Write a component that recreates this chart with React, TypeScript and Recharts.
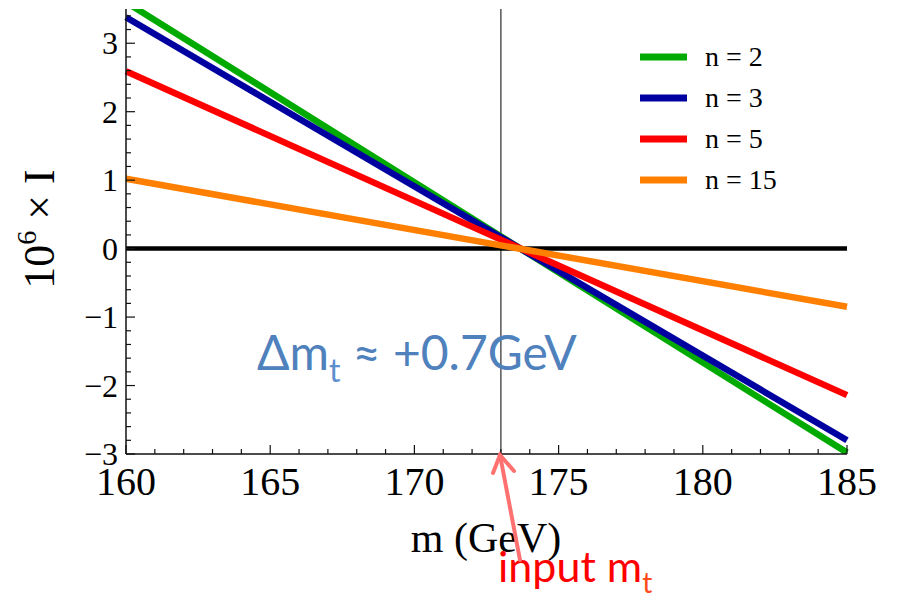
import { LineChart, Line, XAxis, YAxis, Legend, ReferenceLine } from "recharts";

// top-quark mass scan, straight lines through the crossing near 173.7 GeV
const masses = [160, 185];
const n2 = [3.6, -2.98];
const n3 = [3.38, -2.8];
const n5 = [2.59, -2.14];
const n15 = [1.02, -0.85];

const seriesNames = ["n = 2", "n = 3", "n = 5", "n = 15"];
const xMajor = [160, 165, 170, 175, 180, 185];
const yMajor = [-3, -2, -1, 0, 1, 2, 3];
const inputMass = 173;

const data = masses.map((m, i) => ({ m, n2: n2[i], n3: n3[i], n5: n5[i], n15: n15[i] }));

const xTicks: number[] = [];
for (let v = 160; v <= 185; v++) xTicks.push(v);
const yTicks: number[] = [];
for (let k = -15; k <= 17; k++) yTicks.push(Math.round(k * 2) / 10);

const serif = '"Liberation Serif", "DejaVu Serif", serif';
const sans = 'Lato, "Open Sans", sans-serif';
const ink = "#111";

const isMajorX = (v: number) => xMajor.includes(v);
const isMajorY = (v: number) => yMajor.some((t) => Math.abs(t - v) < 1e-6);
const fmt = (v: number) => (v < 0 ? "\u2212" + Math.abs(v) : String(v));

function BottomTick(props: any) {
  const { x, y, payload } = props;
  const major = isMajorX(payload.value);
  return (
    <g>
      <line x1={x} y1={y} x2={x} y2={y - (major ? 9 : 5)} stroke={ink} strokeWidth={1.2} />
      {major && (
        <text x={x} y={y + 41} textAnchor="middle" fontSize={40} fontFamily={serif} fill="#000">
          {payload.value}
        </text>
      )}
    </g>
  );
}

function TopTick(props: any) {
  const { x, y, payload } = props;
  const major = isMajorX(payload.value);
  return <line x1={x} y1={y} x2={x} y2={y + (major ? 9 : 5)} stroke={ink} strokeWidth={1.2} />;
}

function LeftTick(props: any) {
  const { x, y, payload } = props;
  const major = isMajorY(payload.value);
  return (
    <g>
      <line x1={x} y1={y} x2={x + (major ? 9 : 5)} y2={y} stroke={ink} strokeWidth={1.2} />
      {major && (
        <text x={x - 8} y={y + 11} textAnchor="end" fontSize={32} fontFamily={serif} fill="#000">
          {fmt(Math.round(payload.value))}
        </text>
      )}
    </g>
  );
}

function RightTick(props: any) {
  const { x, y, payload } = props;
  const major = isMajorY(payload.value);
  return <line x1={x} y1={y} x2={x - (major ? 9 : 5)} y2={y} stroke={ink} strokeWidth={1.2} />;
}

function LegendBox(props: any) {
  const items = [...(props.payload || [])].sort(
    (a: any, b: any) => seriesNames.indexOf(a.value) - seriesNames.indexOf(b.value)
  );
  return (
    <div>
      {items.map((it: any) => (
        <div key={it.value} style={{ display: "flex", alignItems: "center", height: 41 }}>
          <svg width={48} height={10} style={{ marginRight: 17 }}>
            <rect x={0} y={1.5} width={47} height={7} fill={it.color} />
          </svg>
          <span style={{ fontFamily: serif, fontSize: 28, color: "#000" }}>{it.value}</span>
        </div>
      ))}
    </div>
  );
}

export default function App() {
  const axisLine = { stroke: ink, strokeWidth: 1.5 };
  const keys = ["n2", "n3", "n5", "n15"];
  const colors = ["#00aa00", "#0000a0", "#ff0000", "#ff8000"];
  return (
    <div style={{ position: "absolute", left: 0, top: 0, width: 897, height: 601, background: "#fff" }}>
      <LineChart width={897} height={601} data={data} margin={{ top: 9, right: 50, left: 66, bottom: 87 }}>
        <XAxis dataKey="m" type="number" domain={[160, 185]} ticks={xTicks} interval={0} height={60}
          tickSize={0} tickMargin={0} tickLine={false} axisLine={axisLine} tick={<BottomTick />} />
        <XAxis xAxisId="top" orientation="top" dataKey="m" type="number" domain={[160, 185]} ticks={xTicks}
          interval={0} height={0} tickSize={0} tickMargin={0} tickLine={false} axisLine={axisLine} tick={<TopTick />} />
        <YAxis type="number" domain={[-3, 3.5]} allowDataOverflow ticks={yTicks} interval={0} width={60}
          tickSize={0} tickMargin={0} tickLine={false} axisLine={axisLine} tick={<LeftTick />} />
        <YAxis yAxisId="right" orientation="right" type="number" domain={[-3, 3.5]} allowDataOverflow ticks={yTicks}
          interval={0} width={0} tickSize={0} tickMargin={0} tickLine={false} axisLine={axisLine} tick={<RightTick />} />
        <ReferenceLine y={0} stroke="#000" strokeWidth={4.5} />
        <ReferenceLine x={inputMass} stroke="#000" strokeWidth={1} />
        {keys.map((k, i) => (
          <Line key={k} dataKey={k} name={seriesNames[i]} stroke={colors[i]} strokeWidth={6.5}
            dot={false} activeDot={false} isAnimationActive={false} />
        ))}
        <Legend layout="vertical" align="center" verticalAlign="middle" content={<LegendBox />}
          wrapperStyle={{ top: 36, left: 640, width: 200 }} />
      </LineChart>
      <svg width={897} height={601} style={{ position: "absolute", left: 0, top: 0, pointerEvents: "none" }}>
        <text transform="translate(54,229) rotate(-90)" textAnchor="middle" fontFamily={serif} fontSize={44} fill="#000">
          10<tspan fontSize={28} dy={-18}>6</tspan><tspan dy={18}> × I</tspan>
        </text>
        <text x={486} y={552} textAnchor="middle" fontFamily={serif} fontSize={42} fill="#000">m (GeV)</text>
        <text x={257} y={370} fontFamily={sans} fontSize={48} fill="#4f81bd">
          Δm<tspan fontSize={32} dy={12} fill="#5d8fcf">t</tspan><tspan dy={-12}> ≈ +0.7GeV</tspan>
        </text>
        <text x={498} y={582} fontFamily={sans} fontSize={43} fill="#ff0000">
          input m<tspan fontSize={28} dy={11} fill="#ff4a1a">t</tspan>
        </text>
        <g stroke="#ff7070" strokeWidth={4} fill="none" strokeLinecap="round">
          <line x1={520} y1={560} x2={500} y2={455} />
          <polyline points="493,473 500,455 514,471" />
        </g>
      </svg>
    </div>
  );
}
